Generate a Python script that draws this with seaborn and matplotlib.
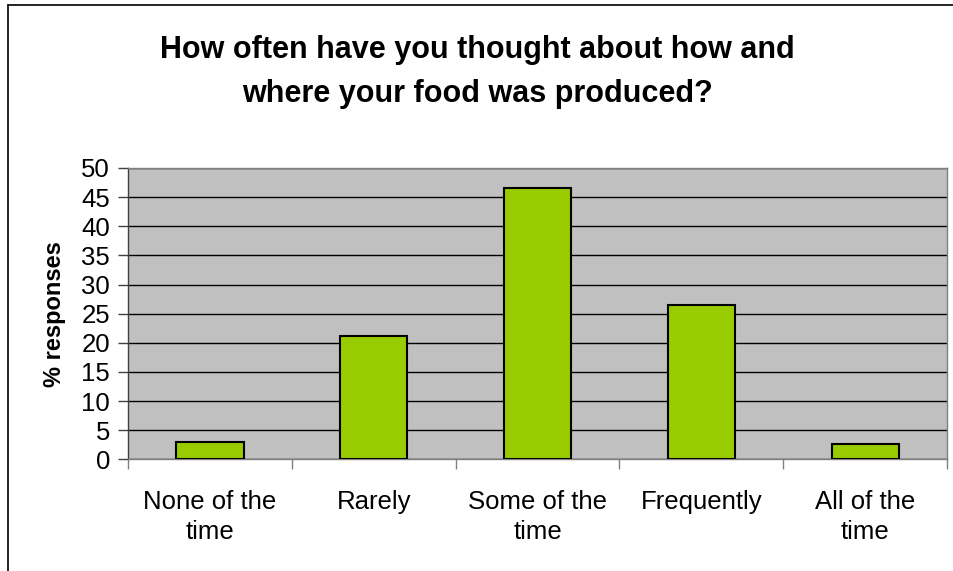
import matplotlib
matplotlib.use("Agg")
import matplotlib.pyplot as plt
import seaborn as sns
import pandas as pd
from matplotlib.lines import Line2D

categories = ["None of the\ntime", "Rarely", "Some of the\ntime", "Frequently", "All of the\ntime"]
responses = [3.0, 21.2, 46.5, 26.4, 2.7]

df = pd.DataFrame({"Answer": categories, "Percent": responses})

sns.set_theme(style="white")
plt.rcParams["font.family"] = ["Liberation Sans", "DejaVu Sans"]
plt.rcParams["text.color"] = "black"

fig = plt.figure(figsize=(9.54, 5.71), dpi=100)
ax = fig.add_axes([0.1342, 0.1956, 0.8585, 0.5102])
ax.set_facecolor("#C0C0C0")

sns.barplot(data=df, x="Answer", y="Percent", color="#99CC00", edgecolor="black",
            linewidth=1.5, width=0.41, saturation=1, ax=ax, zorder=3)

ax.set_ylim(0, 50)
ax.set_xlim(-0.5, len(categories) - 0.5)
ax.set_yticks(range(0, 51, 5))
ax.yaxis.grid(True, color="black", linewidth=1, zorder=1)
ax.set_axisbelow(True)

# category boundaries as ticks, labels centred on bars
ax.set_xticks([i - 0.5 for i in range(len(categories) + 1)], minor=True)
ax.tick_params(axis="x", which="minor", bottom=True, length=7, width=1, color="#808080",
               direction="out")
ax.tick_params(axis="x", which="major", length=0, pad=22, labelsize=18.5, colors="black")
ax.tick_params(axis="y", length=7, width=1, color="#404040", direction="out", left=True,
               labelsize=18.5, pad=6, colors="black")
for lbl in ax.get_xticklabels():
    lbl.set_linespacing(1.3)

for side in ["left", "bottom", "top", "right"]:
    ax.spines[side].set_visible(True)
    ax.spines[side].set_linewidth(1)
ax.spines["left"].set_color("#404040")
ax.spines["bottom"].set_color("#808080")
ax.spines["top"].set_color("#808080")
ax.spines["right"].set_color("#808080")

ax.set_xlabel("")
ax.set_ylabel("% responses", fontsize=17, fontweight="bold", labelpad=11, color="black")

fig.text(0.5, 0.874, "How often have you thought about how and\nwhere your food was produced?",
         ha="center", va="center", fontsize=22, fontweight="bold", linespacing=1.6,
         color="black")

# chart frame (only left and top edges visible in the crop)
fig.lines.append(Line2D([8 / 954, 8 / 954], [0, 1 - 5 / 571], transform=fig.transFigure,
                        color="black", linewidth=1.2))
fig.lines.append(Line2D([8 / 954, 1], [1 - 5 / 571, 1 - 5 / 571], transform=fig.transFigure,
                        color="black", linewidth=1.2))

fig.savefig("out.png", dpi=100, facecolor="white")
